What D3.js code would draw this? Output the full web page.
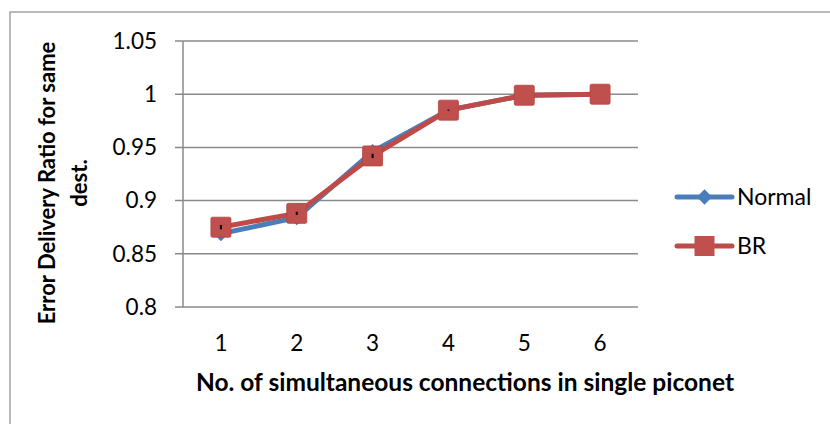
<!DOCTYPE html>
<html><head><meta charset="utf-8">
<script src="https://cdn.jsdelivr.net/npm/d3@7"></script>
<style>body{margin:0;background:#fff}svg{display:block}</style>
</head><body><svg id="c" width="830" height="424"></svg>
<script>
const categories = ["1","2","3","4","5","6"];
const normalValues = [0.869, 0.884, 0.946, 0.985, 0.999, 1.0];
const brValues = [0.875, 0.888, 0.942, 0.985, 0.999, 1.0];
const errorValues = [0.002, 0.0015, 0.002, 0.0005, 0, 0];
const yTicks = [0.8, 0.85, 0.9, 0.95, 1, 1.05];
const seriesNames = ["Normal", "BR"];

const svg = d3.select("#c");
const font = "Lato, 'Open Sans', sans-serif";
const m = {l:183, r:638, t:41, b:307};
const x = d3.scaleBand().domain(categories).range([m.l, m.r]);
const y = d3.scaleLinear().domain([0.8, 1.05]).range([m.b, m.t]);

// outer frame
svg.append("rect").attr("x",10).attr("y",12).attr("width",830).attr("height",430)
  .attr("fill","none").attr("stroke","#8c8c8c").attr("stroke-width",1.2);

// gridlines
svg.append("g").selectAll("line").data(yTicks).join("line")
  .attr("x1", m.l-8).attr("x2", m.r).attr("y1", d=>y(d)).attr("y2", d=>y(d))
  .attr("stroke","#8a8a8a").attr("stroke-width",1.5);
// y axis line
svg.append("line").attr("x1",m.l).attr("x2",m.l).attr("y1",m.t).attr("y2",m.b)
  .attr("stroke","#8a8a8a").attr("stroke-width",1.5);

// y tick labels
svg.append("g").selectAll("text").data(yTicks).join("text")
  .attr("x", 157).attr("y", d=>y(d)).attr("dy","0.35em").attr("text-anchor","end")
  .attr("font-family",font).attr("font-size",22.5).attr("fill","#000")
  .text(d=>d===1?"1":d===0.8?"0.8":d===0.9?"0.9":d3.format(".2f")(d));

// x tick labels
svg.append("g").selectAll("text").data(categories).join("text")
  .attr("x", d=>cx(d)).attr("y", 343).attr("dy","0.35em").attr("text-anchor","middle")
  .attr("font-family",font).attr("font-size",22.5).attr("fill","#000").text(d=>d);

// axis titles
svg.append("text").attr("x",465).attr("y",382).attr("dy","0.35em").attr("text-anchor","middle")
  .attr("font-family",font).attr("font-size",24.5).attr("font-weight","bold")
  .text("No. of simultaneous connections in single piconet");
const yt = svg.append("text").attr("transform","translate(47,183) rotate(-90)")
  .attr("text-anchor","middle").attr("font-family",font).attr("font-size",22).attr("font-weight","bold");
yt.append("tspan").attr("x",0).attr("dy","0.35em").text("Error Delivery Ratio for same");
yt.append("tspan").attr("x",0).attr("dy","1.45em").text("dest.");

function cx(d){ return x(d)+x.bandwidth()/2; }
const line = d3.line().x(d=>cx(d.c)).y(d=>y(d.v));
const nData = categories.map((c,i)=>({c, v:normalValues[i]}));
const bData = categories.map((c,i)=>({c, v:brValues[i]}));
const blue = "#4a7ebb", red = "#be4b48";

svg.append("path").datum(nData).attr("d",line).attr("fill","none").attr("stroke",blue).attr("stroke-width",5).attr("stroke-linejoin","round");
svg.append("g").selectAll("path").data(nData).join("path")
  .attr("d", d3.symbol(d3.symbolDiamond2, 150)).attr("transform", d=>`translate(${cx(d.c)},${y(d.v)})`).attr("fill",blue);

svg.append("path").datum(bData).attr("d",line).attr("fill","none").attr("stroke",red).attr("stroke-width",5).attr("stroke-linejoin","round");
svg.append("g").selectAll("rect").data(bData).join("rect")
  .attr("x", d=>cx(d.c)-10).attr("y", d=>y(d.v)-10).attr("width",20).attr("height",20).attr("rx",1.5)
  .attr("fill","#c0504d").attr("stroke","#b5423f").attr("stroke-width",0.8);

// small error bars
svg.append("g").selectAll("line").data(bData.map((d,i)=>({c:d.c, v:d.v, e:errorValues[i]})).filter(d=>d.e>0)).join("line")
  .attr("x1", d=>cx(d.c)).attr("x2", d=>cx(d.c)).attr("y1", d=>y(d.v-d.e)).attr("y2", d=>y(d.v+d.e))
  .attr("stroke","#000").attr("stroke-width",2);

// legend
const leg = svg.append("g");
const ly = [197, 246];
seriesNames.forEach((n,i)=>{
  const col = i===0?blue:red;
  leg.append("line").attr("x1",677).attr("x2",732).attr("y1",ly[i]).attr("y2",ly[i]).attr("stroke",col).attr("stroke-width",5).attr("stroke-linecap","round");
  if(i===0) leg.append("path").attr("d",d3.symbol(d3.symbolDiamond2,150)).attr("transform",`translate(704.5,${ly[i]})`).attr("fill",blue);
  else leg.append("rect").attr("x",694.5).attr("y",ly[i]-10).attr("width",20).attr("height",20).attr("fill","#c0504d");
  leg.append("text").attr("x",737).attr("y",ly[i]).attr("dy","0.35em").attr("font-family",font).attr("font-size",23).text(n);
});
</script></body></html>
